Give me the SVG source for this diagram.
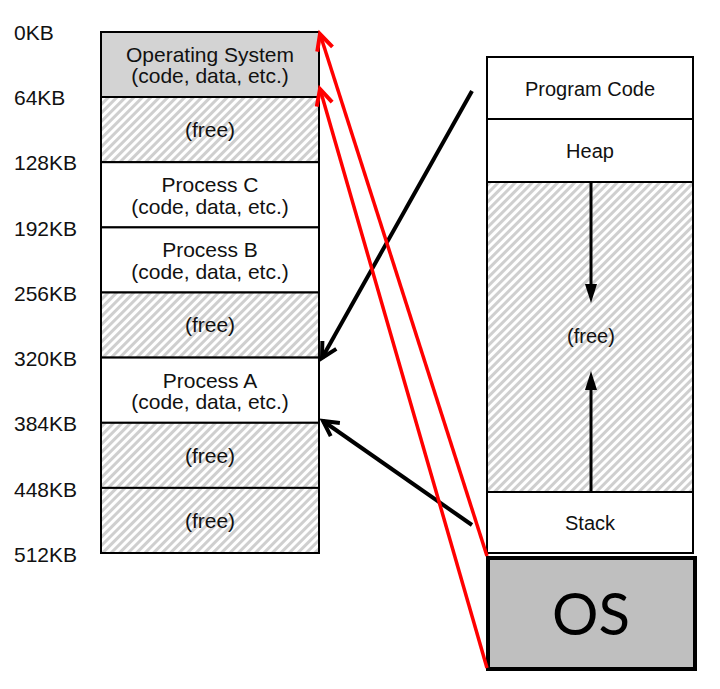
<svg xmlns="http://www.w3.org/2000/svg" width="720" height="689" viewBox="0 0 720 689">
<style>
.box{stroke:#000;stroke-width:2;fill:#fff}
.os{fill:#d3d3d3}
.free{fill:url(#hatch)}
.t{font-family:"Liberation Sans",Arial,sans-serif;font-size:21px;fill:#111;text-anchor:middle}
.tr{font-family:"Liberation Sans",Arial,sans-serif;font-size:20px;fill:#111;text-anchor:middle}
.lab{font-family:"Liberation Sans",Arial,sans-serif;font-size:21px;fill:#111}
.red{stroke:#f00;stroke-width:3.5;fill:none;marker-end:url(#ra)}
.blk{stroke:#000;stroke-width:4;fill:none;marker-end:url(#ba)}
</style>
<defs>
<pattern id="hatch" patternUnits="userSpaceOnUse" width="6" height="6" patternTransform="rotate(45)">
<rect width="6" height="6" fill="#fff"/>
<line x1="1.5" y1="0" x2="1.5" y2="6" stroke="#cfcfcf" stroke-width="3"/>
</pattern>
<marker id="ra" markerUnits="userSpaceOnUse" viewBox="-22 -12 24 24" refX="0" refY="0" markerWidth="24" markerHeight="24" orient="auto" overflow="visible">
<path d="M-16,-8 L0,0 L-16,8" fill="none" stroke="#f00" stroke-width="4"/>
</marker>
<marker id="ba" markerUnits="userSpaceOnUse" viewBox="-22 -12 24 24" refX="0" refY="0" markerWidth="24" markerHeight="24" orient="auto" overflow="visible">
<path d="M-15,-8 L0,0 L-15,8" fill="none" stroke="#000" stroke-width="4"/>
</marker>
</defs>
<rect width="720" height="689" fill="#fff"/>

<g id="labels">
<text class="lab" x="14" y="40">0KB</text>
<text class="lab" x="14" y="105">64KB</text>
<text class="lab" x="14" y="170">128KB</text>
<text class="lab" x="14" y="236">192KB</text>
<text class="lab" x="14" y="301">256KB</text>
<text class="lab" x="14" y="366">320KB</text>
<text class="lab" x="14" y="431">384KB</text>
<text class="lab" x="14" y="497">448KB</text>
<text class="lab" x="14" y="562">512KB</text>
</g>

<g id="mem-os">
<rect class="box os" x="101" y="32" width="218" height="65"/>
<text class="t" x="210" y="61.5">Operating System</text>
<text class="t" x="210" y="82.5">(code, data, etc.)</text>
</g>
<g id="mem-free1">
<rect class="box free" x="101" y="97" width="218" height="65.2"/>
<text class="t" x="210" y="137">(free)</text>
</g>
<g id="mem-procC">
<rect class="box" x="101" y="162.2" width="218" height="65.2"/>
<text class="t" x="210" y="192">Process C</text>
<text class="t" x="210" y="213.5">(code, data, etc.)</text>
</g>
<g id="mem-procB">
<rect class="box" x="101" y="227.4" width="218" height="65.1"/>
<text class="t" x="210" y="257">Process B</text>
<text class="t" x="210" y="278.5">(code, data, etc.)</text>
</g>
<g id="mem-free2">
<rect class="box free" x="101" y="292.5" width="218" height="65.1"/>
<text class="t" x="210" y="332">(free)</text>
</g>
<g id="mem-procA">
<rect class="box" x="101" y="357.6" width="218" height="65.2"/>
<text class="t" x="210" y="387.5">Process A</text>
<text class="t" x="210" y="409">(code, data, etc.)</text>
</g>
<g id="mem-free3">
<rect class="box free" x="101" y="422.8" width="218" height="65.1"/>
<text class="t" x="210" y="462.5">(free)</text>
</g>
<g id="mem-free4">
<rect class="box free" x="101" y="487.9" width="218" height="65.1"/>
<text class="t" x="210" y="527.5">(free)</text>
</g>

<g id="as-code">
<rect class="box" x="487" y="57" width="206" height="62"/>
<text class="tr" x="590" y="96">Program Code</text>
</g>
<g id="as-heap">
<rect class="box" x="487" y="119" width="206" height="63"/>
<text class="tr" x="590" y="158">Heap</text>
</g>
<g id="as-free">
<rect class="box free" x="487" y="182" width="206" height="310"/>
<text class="tr" x="591" y="343">(free)</text>
<line x1="591" y1="182" x2="591" y2="286" stroke="#000" stroke-width="3"/>
<polygon points="585,284 597,284 591,303" fill="#000"/>
<line x1="591" y1="388" x2="591" y2="492" stroke="#000" stroke-width="3"/>
<polygon points="585,390 597,390 591,371" fill="#000"/>
</g>
<g id="as-stack">
<rect class="box" x="487" y="492" width="206" height="61"/>
<text class="tr" x="590" y="530">Stack</text>
</g>
<g id="os">
<rect x="488" y="558" width="207" height="111" fill="#bfbfbf" stroke="#000" stroke-width="4"/>
<text x="591" y="635" font-family="Lato,'Open Sans',sans-serif" font-size="58" text-anchor="middle" fill="#000">OS</text>
</g>

<g id="connectors">
<line class="blk" x1="472" y1="91" x2="322" y2="358"/>
<line class="blk" x1="472" y1="525" x2="323" y2="421"/>
<line class="red" x1="487" y1="556" x2="320" y2="34"/>
<line class="red" x1="487" y1="668" x2="320" y2="89"/>
</g>
</svg>
